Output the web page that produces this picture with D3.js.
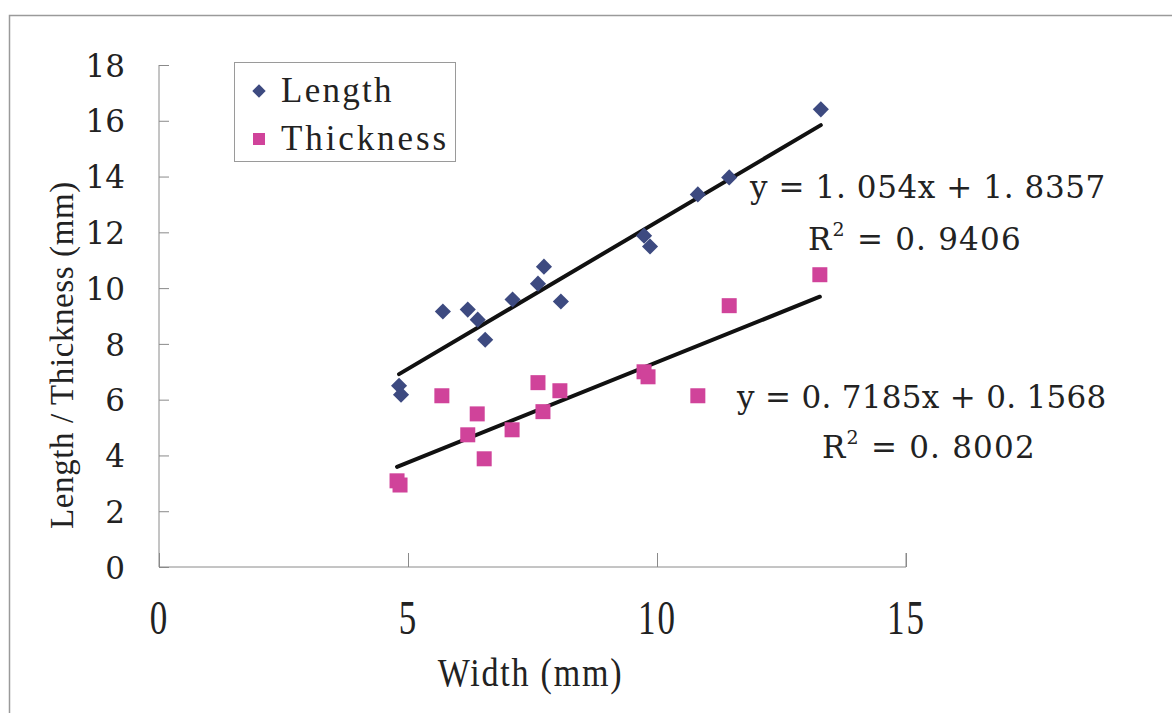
<!DOCTYPE html>
<html><head><meta charset="utf-8">
<script src="https://cdn.jsdelivr.net/npm/d3@7"></script>
<style>body{margin:0;background:#fff;} svg{display:block;}</style>
</head><body>
<svg id="c" width="1172" height="713"></svg>
<script>
// ---- data ----
const widthLength = [4.82, 4.86, 5.70, 6.20, 6.40, 6.55, 7.10, 7.61, 7.73, 8.07, 9.74, 9.86, 10.82, 11.45, 13.29];
const lengthVals  = [6.50, 6.18, 9.16, 9.23, 8.87, 8.15, 9.59, 10.16, 10.77, 9.52, 11.88, 11.49, 13.36, 13.97, 16.41];
const widthThick  = [4.78, 4.84, 5.68, 6.20, 6.39, 6.53, 7.09, 7.61, 7.71, 8.05, 9.74, 9.82, 10.82, 11.45, 13.27];
const thickVals   = [3.09, 2.94, 6.14, 4.74, 5.49, 3.88, 4.92, 6.61, 5.57, 6.32, 7.00, 6.82, 6.14, 9.37, 10.48];
const seriesNames = ["Length", "Thickness"];
const slopes      = [1.054, 0.7185];
const intercepts  = [1.8357, 0.1568];
const eqLabels    = ["y = 1. 054x + 1. 8357", "y = 0. 7185x + 0. 1568"];
const r2Labels    = ["0. 9406", "0. 8002"];
const xTicks = [0, 5, 10, 15];
const yTicks = [0, 2, 4, 6, 8, 10, 12, 14, 16, 18];
const xTitle = "Width (mm)";
const yTitle = "Length / Thickness (mm)";

const colors = ["#3d4a80", "#d0439a"];
const svg = d3.select("#c");
const serif = "'DejaVu Serif', 'Liberation Serif', serif";
const times = "'Liberation Serif', serif";

// outer frame
svg.append("rect").attr("x", 9.5).attr("y", 15.5).attr("width", 1200).attr("height", 800)
  .attr("fill", "none").attr("stroke", "#9a9a9a").attr("stroke-width", 1.5);

const x = d3.scaleLinear().domain([0, 15]).range([159, 906]);
const y = d3.scaleLinear().domain([0, 18]).range([567, 65]);

// y axis
const gy = svg.append("g").attr("transform", `translate(${x(0)},0)`)
  .call(d3.axisLeft(y).tickValues(yTicks).tickSize(-10).tickPadding(34).tickFormat(d3.format("d")));
gy.selectAll("path,line").attr("stroke", "#8a8a8a").attr("stroke-width", 1);
gy.select(".domain").attr("d", `M0,${y(18)}H0V${y(0)}`);
gy.selectAll("text").attr("font-family", serif).attr("font-size", 31).attr("fill", "#222").attr("dy", "0.36em");

// x axis
const gx = svg.append("g").attr("transform", `translate(0,${y(0)})`)
  .call(d3.axisBottom(x).tickValues(xTicks).tickSize(-14).tickPadding(0).tickFormat(d3.format("d")));
gx.selectAll("path,line").attr("stroke", "#8a8a8a").attr("stroke-width", 1);
gx.select(".domain").attr("d", `M${x(0)},0V0H${x(15)}V-14`);
gx.selectAll("text").remove();
gx.selectAll(".tick").append("text")
  .attr("transform", "translate(0,67) scale(1,1.4)")
  .attr("text-anchor", "middle").attr("font-family", times).attr("font-size", 35).attr("fill", "#222")
  .attr("letter-spacing", 2)
  .text(d => d);

// axis titles
svg.append("text").attr("transform", `translate(${(x(0)+x(15))/2 - 2},686) scale(1,1.2)`)
  .attr("text-anchor", "middle").attr("font-family", times).attr("font-size", 34).attr("fill", "#222")
  .attr("letter-spacing", 1.8).text(xTitle);
svg.append("text").attr("transform", `translate(73,${y(7.6)}) rotate(-90)`)
  .attr("text-anchor", "middle").attr("font-family", times).attr("font-size", 33).attr("fill", "#222")
  .attr("letter-spacing", 0.6).text(yTitle);

// trend lines
const trend = [ {xs: widthLength, i: 0}, {xs: widthThick, i: 1} ];
trend.forEach(t => {
  const [x0, x1] = d3.extent(t.xs);
  svg.append("line")
    .attr("x1", x(x0)).attr("y1", y(slopes[t.i] * x0 + intercepts[t.i]))
    .attr("x2", x(x1)).attr("y2", y(slopes[t.i] * x1 + intercepts[t.i]))
    .attr("stroke", "#111").attr("stroke-width", 4).attr("stroke-linecap", "round");
});

// markers
const lenData = widthLength.map((w, k) => [w, lengthVals[k]]);
const thkData = widthThick.map((w, k) => [w, thickVals[k]]);
svg.append("g").selectAll("path").data(lenData).join("path")
  .attr("d", d3.symbol().type(d3.symbolSquare).size(130))
  .attr("transform", d => `translate(${x(d[0])},${y(d[1])}) rotate(45)`)
  .attr("fill", colors[0]);
svg.append("g").selectAll("rect").data(thkData).join("rect")
  .attr("x", d => x(d[0]) - 7.5).attr("y", d => y(d[1]) - 7.5).attr("width", 15).attr("height", 15)
  .attr("fill", colors[1]);

// equations
const eqPos = [[750, 198, 808, 250], [737, 408, 822, 458]];
eqPos.forEach((p, i) => {
  svg.append("text").attr("x", p[0]).attr("y", p[1]).attr("font-family", serif).attr("font-size", 31)
    .attr("fill", "#222").attr("letter-spacing", i === 0 ? 0.6 : 0.3).text(eqLabels[i]);
  const t = svg.append("text").attr("x", p[2]).attr("y", p[3]).attr("font-family", serif).attr("font-size", 31)
    .attr("fill", "#222").attr("letter-spacing", 1.2);
  t.append("tspan").text("R");
  t.append("tspan").attr("font-size", 19).attr("dy", -14).text("2");
  t.append("tspan").attr("dy", 14).text(" = " + r2Labels[i]);
});

// legend
const lg = svg.append("g");
lg.append("rect").attr("x", 234.5).attr("y", 62.5).attr("width", 221).attr("height", 99)
  .attr("fill", "#fff").attr("stroke", "#9a9a9a").attr("stroke-width", 1);
seriesNames.forEach((n, i) => {
  const cy = i === 0 ? 91 : 139;
  if (i === 0) {
    lg.append("path").attr("d", d3.symbol().type(d3.symbolSquare).size(90)())
      .attr("transform", `translate(259,${cy}) rotate(45)`).attr("fill", colors[0]);
  } else {
    lg.append("rect").attr("x", 253).attr("y", cy - 6).attr("width", 12).attr("height", 12).attr("fill", colors[1]);
  }
  lg.append("text").attr("transform", `translate(281,${cy + 11}) scale(1,1.05)`)
    .attr("font-family", times).attr("font-size", 35).attr("fill", "#222")
    .attr("letter-spacing", n === "Length" ? 2.3 : 2.9).text(n);
});
</script>
</body></html>
